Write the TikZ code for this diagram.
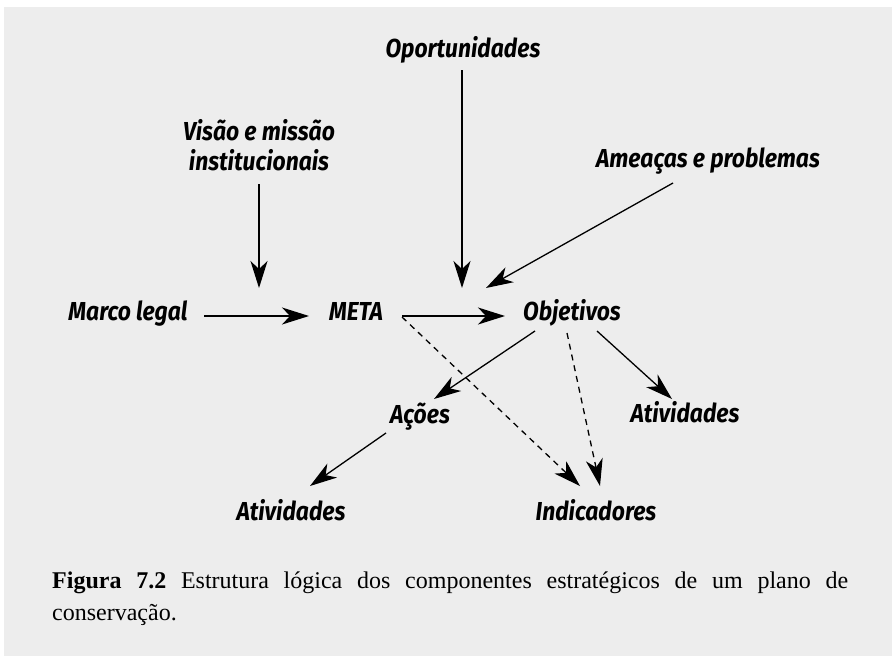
\documentclass[tikz,border=0pt]{standalone}
\usepackage{fontspec}
\setmainfont{Liberation Serif}
\newfontfamily\hand{Fira Sans}[FakeStretch=0.88]
\usetikzlibrary{arrows.meta}
\definecolor{bgc}{HTML}{EDEDED}
\begin{document}
\begin{tikzpicture}[x=1pt,y=-1pt,
  lbl/.style={font=\hand\bfseries\itshape\fontsize{26}{30}\selectfont, inner sep=0pt, align=center, anchor=base},
  arr/.style={draw=black, line width=1.3pt, -{Stealth[length=27pt,width=17pt,inset=8pt]}},
  darr/.style={arr, dash pattern=on 6pt off 5pt}]
\useasboundingbox (0,0) rectangle (892,656);
\fill[bgc] (4,7) rectangle (892,656);

\node[lbl] (opo) at (463,57) {Oportunidades};
\node[lbl, anchor=center] (vis) at (259,145) {Visão e missão\\institucionais};
\node[lbl] (ame) at (708,167) {Ameaças e problemas};
\node[lbl] (marco) at (128,320) {Marco legal};
\node[lbl] (meta) at (356,320) {META};
\node[lbl] (obj) at (572,320) {Objetivos};
\node[lbl] (acoes) at (420,423) {Ações};
\node[lbl] (ativ1) at (685,422) {Atividades};
\node[lbl] (ativ2) at (291,520) {Atividades};
\node[lbl] (ind) at (596,520) {Indicadores};

\coordinate (c1) at (259,288);
\coordinate (c2) at (462,288);
\coordinate (c3) at (486,288);

\draw[arr] ([shift={(76,-4)}]marco.base) -- ([shift={(-47,-4)}]meta.base);
\draw[arr] ([shift={(0,39)}]vis.center) -- (c1);
\draw[arr] ([shift={(-1,13)}]opo.base) -- (c2);
\draw[arr] ([shift={(-35,16)}]ame.base) -- (c3);
\draw[arr] ([shift={(46,-4)}]meta.base) -- ([shift={(-67,-4)}]obj.base);
\draw[darr] ([shift={(46,-3)}]meta.base) -- ([shift={(-16,-34)}]ind.base);
\draw[darr] ([shift={(-5,13)}]obj.base) -- ([shift={(4,-34)}]ind.base);
\draw[arr] ([shift={(-37,11)}]obj.base) -- ([shift={(14,-24)}]acoes.base);
\draw[arr] ([shift={(25,11)}]obj.base) -- ([shift={(-13,-23)}]ativ1.base);
\draw[arr] ([shift={(-34,10)}]acoes.base) -- ([shift={(19,-34)}]ativ2.base);

\node[anchor=base west, inner sep=0pt] (cap) at (52,588)
  {\parbox[t]{796pt}{\fontsize{24}{32}\selectfont\hyphenpenalty=10000\exhyphenpenalty=10000\textbf{Figura 7.2} Estrutura lógica dos componentes estratégicos de um plano de conservação.}};
\end{tikzpicture}
\end{document}
